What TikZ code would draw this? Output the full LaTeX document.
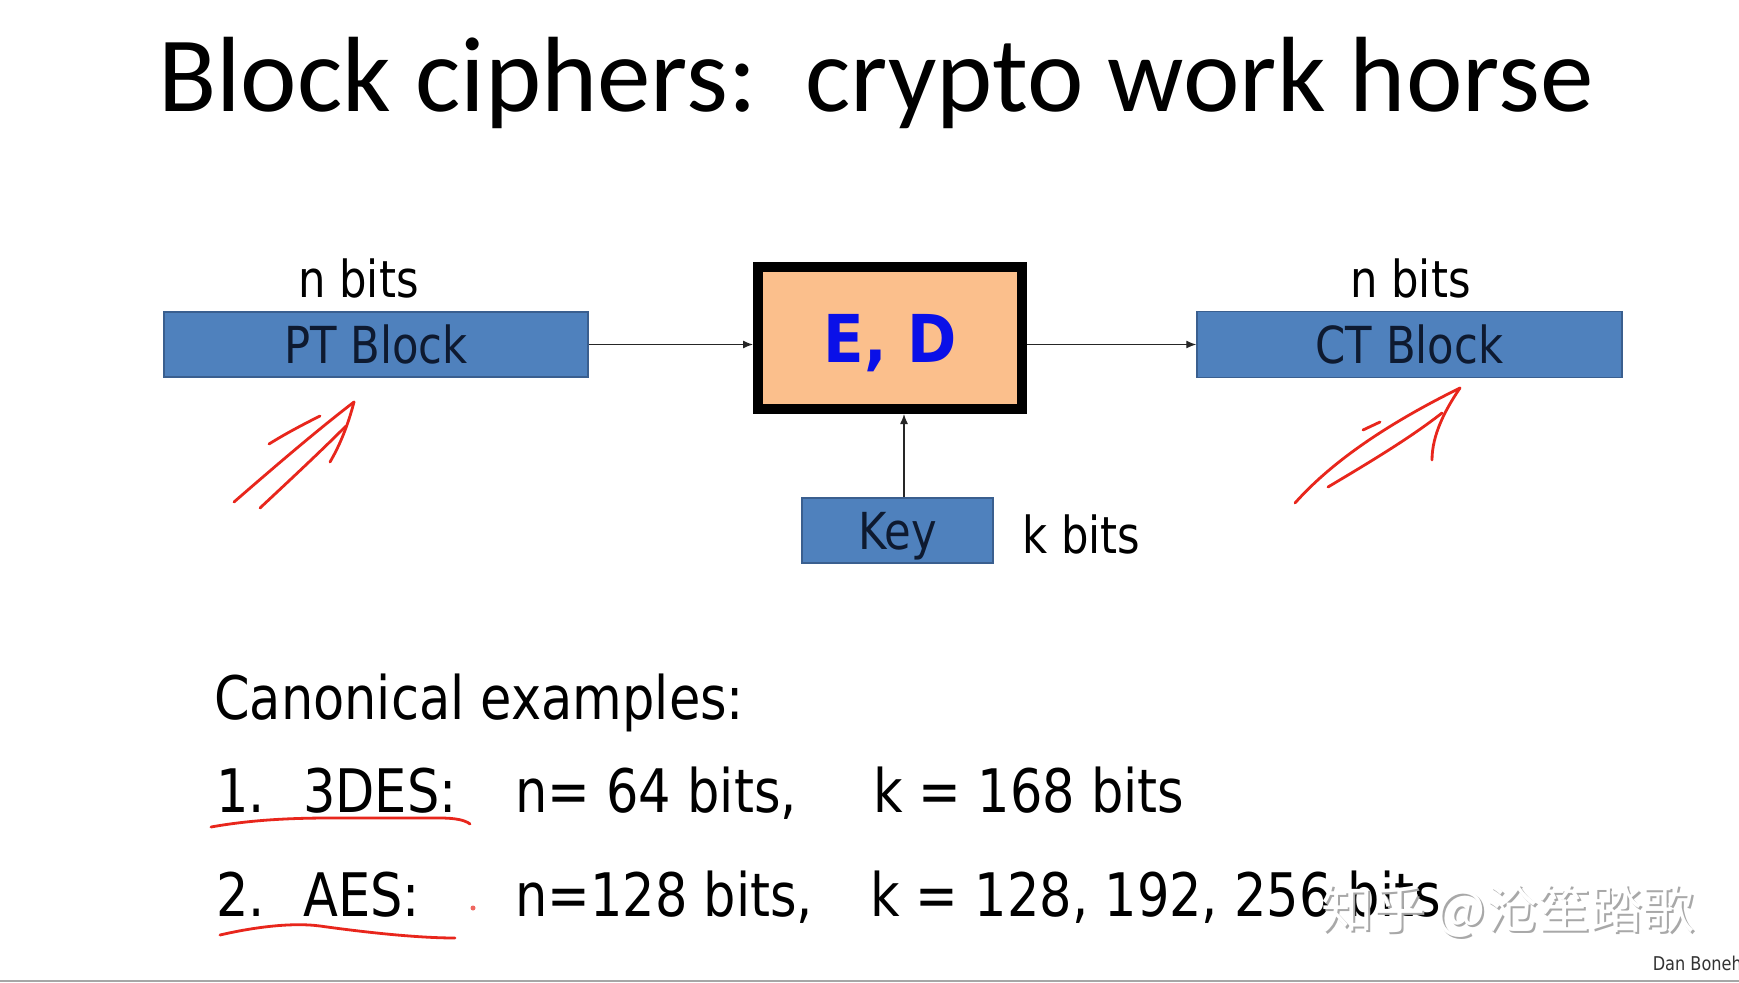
\documentclass[tikz,border=0pt]{standalone}
\usepackage{fontspec}
\setmainfont{DejaVu Sans}[FakeStretch=0.85]
\newfontfamily\titlefont{Carlito}
\newfontfamily\edfont{DejaVu Sans}[FakeStretch=0.9]
\newfontfamily\cjkfont{Noto Sans CJK SC}
\usetikzlibrary{arrows.meta}
\definecolor{blockblue}{HTML}{4F81BD}
\definecolor{blockedge}{HTML}{3A5F8F}
\definecolor{peach}{HTML}{FBBF8C}
\definecolor{navy}{HTML}{0E1A30}
\definecolor{edblue}{HTML}{0A10E8}
\definecolor{scribble}{HTML}{E8261C}
\definecolor{wmgray}{HTML}{A8A8A8}
\frenchspacing
\begin{document}
\begin{tikzpicture}[x=1pt,y=-1pt,
  block/.style={draw=blockedge, line width=1.5pt, fill=blockblue, inner sep=0pt,
    font=\fontsize{51}{60}\selectfont, text=navy, text height=37pt, text depth=0pt},
  edbox/.style={draw=black, line width=10pt, fill=peach, inner sep=0pt,
    minimum width=264pt, minimum height=142pt,
    font=\edfont\bfseries\fontsize{66}{76}\selectfont, text=edblue,
    text height=48pt, text depth=0pt},
  lbl/.style={anchor=base west, inner sep=0pt, font=\fontsize{51}{60}\selectfont, text=black},
  body/.style={anchor=base west, inner sep=0pt, font=\fontsize{60}{72}\selectfont, text=black},
  arr/.style={line width=1.3pt, draw=black!85, -{Latex[length=10pt,width=8pt]}},
  pen/.style={draw=scribble, line width=2.8pt, line cap=round, line join=round},
  wm/.style={anchor=base west, inner sep=0pt, font=\cjkfont\fontsize{52}{60}\selectfont}
]
\useasboundingbox[fill=white] (0,0) rectangle (1739,982);

% title
\node[anchor=base west, inner sep=0pt, font=\titlefont\fontsize{107}{120}\selectfont] (title)
  at (158,111) {Block ciphers:\ \ crypto work horse};

% blocks
\node[block, minimum width=424pt, minimum height=65pt] (pt) at (376,344.5) {PT Block};
\node[edbox] (ed) at (890,338) {E, D};
\node[block, minimum width=425pt, minimum height=66pt] (ct) at (1409.5,344.5) {CT Block};
\node[block, minimum width=191pt, minimum height=65pt] (key) at (897.5,530.5) {Key};

% labels
\node[lbl] (nl) at (298,297) {n bits};
\node[lbl] (nr) at (1350,297) {n bits};
\node[lbl] (kb) at (1022,553) {k bits};

% connectors
\draw[arr] (pt.east) -- (ed.west |- pt.east);
\draw[arr] (ed.east |- ct.west) -- (ct.west);
\coordinate (keytop) at ([xshift=6.5pt]key.north);
\draw[arr] (keytop) -- (keytop |- ed.south);

% examples
\node[body] (canon) at (214,719) {Canonical examples:};
\node[body] (n1) at (216,812) {1.};
\node[body] (des) at (303,812) {3DES:};
\node[body] (desn) at (515,812) {n= 64 bits,};
\node[body] (desk) at (873,812) {k = 168 bits};
\node[body] (n2) at (216,916) {2.};
\node[body] (aes) at (303,916) {AES:};
\node[body] (aesn) at (515,916) {n=128 bits,};
\node[body] (aesk) at (870,916) {k = 128, 192, 256 bits};

% red hand annotations
\draw[pen] (234,502) .. controls (280,462) and (320,428) .. (354,402);
\draw[pen] (260,508) .. controls (290,480) and (320,452) .. (346,426);
\draw[pen] (269,444) .. controls (285,434) and (302,425) .. (320,416);
\draw[pen] (354,402) .. controls (348,425) and (340,445) .. (330,462);

\draw[pen] (1295,503) .. controls (1335,458) and (1395,420) .. (1460,388);
\draw[pen] (1328,487) .. controls (1370,462) and (1410,438) .. (1442,413);
\draw[pen] (1460,388) .. controls (1445,410) and (1432,435) .. (1432,460);
\draw[pen] (1363,430) -- (1380,422);

\draw[pen] (211,827) .. controls (250,820) and (290,818) .. (330,818) -- (440,818) .. controls (455,818) and (465,820) .. (470,824);
\draw[pen] (220,935) .. controls (250,928) and (290,922) .. (320,926) .. controls (370,933) and (420,938) .. (455,938);
\fill[scribble!70] (473,908) circle (2.5pt);

% watermark
\node[wm, text=wmgray] (wms) at (1323,930) {知乎 @沧笙踏歌};
\node[wm, text=white] (wm) at (1321,928) {知乎 @沧笙踏歌};

% footer
\node[anchor=base east, inner sep=0pt, font=\fontsize{19}{22}\selectfont, text=black!80] (auth) at (1742,970) {Dan Boneh};
\draw[draw=gray!70, line width=2pt] (0,980.5) -- (1739,980.5);
\end{tikzpicture}
\end{document}
